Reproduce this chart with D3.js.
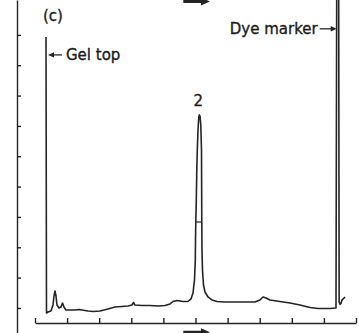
<!DOCTYPE html>
<html><head><meta charset="utf-8">
<script src="https://cdn.jsdelivr.net/npm/d3@7"></script>
<style>
html,body{margin:0;padding:0;background:#fff;}
svg{display:block;}
text{font-family:"DejaVu Sans",sans-serif;fill:#1c1c1c;stroke:#1c1c1c;stroke-width:0.35px;}
</style></head><body>
<svg id="chart" width="359" height="333"></svg>
<script>
// Densitometer scan of one gel lane: migration distance vs. absorbance (arbitrary units)
const scanPos = [0.343,0.358,0.405,0.498,0.561,0.592,0.623,0.654,0.685,0.748,0.810,0.857,0.903,0.966,1.090,1.246,1.371,1.464,1.651,1.807,2.025,2.274,2.492,2.710,2.897,3.022,3.069,3.115,3.333,3.583,3.832,4.050,4.206,4.299,4.424,4.611,4.766,
  4.860,4.922,4.969,4.994,5.000,5.009,5.025,5.040,5.056,5.078,5.100,5.118,5.140,5.165,5.187,5.193,5.196,5.202,5.218,5.249,5.296,5.389,
  5.514,5.670,5.919,6.386,6.854,7.009,7.103,7.196,7.321,7.632,7.944,8.255,8.567,8.816,9.190,9.377,9.400,9.460,9.475,9.500,9.530,9.564,9.657];
const scanAbs = [9.93,0.834,0.867,0.900,1.098,1.395,1.560,1.395,1.098,0.999,1.032,1.164,1.032,0.933,0.933,0.933,0.950,0.933,0.900,0.884,0.900,0.966,1.032,1.048,1.065,1.098,1.180,1.098,1.081,1.081,1.065,1.081,1.131,1.213,1.246,1.213,1.213,
  1.296,1.494,1.923,2.582,3.241,3.834,4.560,5.549,6.208,6.868,7.263,7.362,7.329,7.033,6.208,4.560,3.834,2.911,2.252,1.758,1.527,1.362,
  1.263,1.213,1.197,1.197,1.197,1.263,1.362,1.329,1.263,1.213,1.164,1.098,1.015,0.983,0.983,0.999,12.0,12.0,1.200,1.120,1.150,1.260,1.360];

const xTicks = [0,1,2,3,4,5,6,7,8,9,10];
const yTicks = [1,2,3,4,5,6,7,8,9,10];

const panelLabel = "(c)";
const peakLabel = "2";
const peakWindow = [4.5, 6.0];     // distance range holding peak 2
const gelTop = {pos: 0.343, level: 9.34, text: "Gel top"};
const dyeMarker = {pos: 9.43, level: 10.20, text: "Dye marker"};
const peakMarkLevel = 3.834;       // level of the bar drawn across peak 2
const migrationArrows = [0.2, 11.1]; // heights of the direction arrows at bottom and top

const ink = "#242424";
const fontSize = 15;
const svg = d3.select("#chart");

const x = d3.scaleLinear().domain([0, 10]).range([35, 356]);
const y = d3.scaleLinear().domain([0, 11.15]).range([338.3, 0]);

// left (absorbance) axis, ticks pointing inward
const yAxis = svg.append("g").attr("transform", "translate(17,0)")
  .call(d3.axisRight(y).tickValues(yTicks).tickSize(4).tickSizeOuter(0).tickFormat(""));
// bottom (distance) axis, ticks pointing up
const xAxis = svg.append("g").attr("transform", "translate(0,323)")
  .call(d3.axisBottom(x).tickValues(xTicks).tickSize(-5).tickSizeOuter(0).tickFormat(""));
[yAxis, xAxis].forEach(g => {
  g.selectAll("path,line").attr("stroke", ink).attr("stroke-width", 1.4);
});

// scan trace
const pts = scanPos.map((p, i) => [p, scanAbs[i]]);
const line = d3.line().x(d => x(d[0])).y(d => y(d[1]));
svg.append("path").datum(pts).attr("d", line)
  .attr("fill", "none").attr("stroke", ink).attr("stroke-width", 1.6)
  .attr("stroke-linejoin", "round");

// apex of peak 2
let apexIdx = -1;
pts.forEach((d, i) => {
  if (d[0] >= peakWindow[0] && d[0] <= peakWindow[1] && (apexIdx < 0 || d[1] > pts[apexIdx][1])) apexIdx = i;
});
const apex = pts[apexIdx];

// bar across the peak at the marked level: find both crossings of the trace
function crossing(from, step) {
  for (let i = from; i + step >= 0 && i + step < pts.length; i += step) {
    const a = pts[i], b = pts[i + step];
    if ((a[1] - peakMarkLevel) * (b[1] - peakMarkLevel) <= 0) {
      const t = (peakMarkLevel - a[1]) / (b[1] - a[1]);
      return a[0] + t * (b[0] - a[0]);
    }
  }
}
const xl = crossing(apexIdx, -1), xr = crossing(apexIdx, 1);
svg.append("line").attr("x1", x(xl)).attr("x2", x(xr))
  .attr("y1", y(peakMarkLevel)).attr("y2", y(peakMarkLevel))
  .attr("stroke", ink).attr("stroke-width", 1.2);

// peak number above the apex
svg.append("text").attr("x", x(apex[0]) - 1).attr("y", y(apex[1]) - 9)
  .attr("text-anchor", "middle").attr("font-size", fontSize).text(peakLabel);

// panel letter
svg.append("text").attr("x", 43).attr("y", 21).attr("font-size", fontSize).text(panelLabel);

// small arrow helper
function arrow(x1, x2, yy, head, width) {
  const dir = Math.sign(x2 - x1);
  svg.append("line").attr("x1", x1).attr("x2", x2 - dir * head * 0.8)
    .attr("y1", yy).attr("y2", yy).attr("stroke", ink).attr("stroke-width", width);
  svg.append("path")
    .attr("d", `M${x2},${yy} L${x2 - dir * head},${yy - head * 0.45} L${x2 - dir * head},${yy + head * 0.45} Z`)
    .attr("fill", ink);
}

// Gel top annotation (arrow points left to the start spike)
const gx = x(gelTop.pos), gy = y(gelTop.level);
arrow(gx + 16, gx + 2, gy, 6, 1.3);
svg.append("text").attr("x", gx + 20).attr("y", gy + 5.5).attr("font-size", fontSize).text(gelTop.text);

// Dye marker annotation (arrow points right to the dye spike)
const dx = x(dyeMarker.pos), dy = y(dyeMarker.level);
arrow(dx - 18, dx - 1, dy, 6, 1.3);
svg.append("text").attr("x", dx - 20).attr("y", dy + 5.5).attr("text-anchor", "end")
  .attr("font-size", fontSize).text(dyeMarker.text);

// direction-of-migration arrows at the top and bottom edges
migrationArrows.forEach(v => arrow(x(4.62), x(5.45), y(v), 9, 3));
</script>
</body></html>
